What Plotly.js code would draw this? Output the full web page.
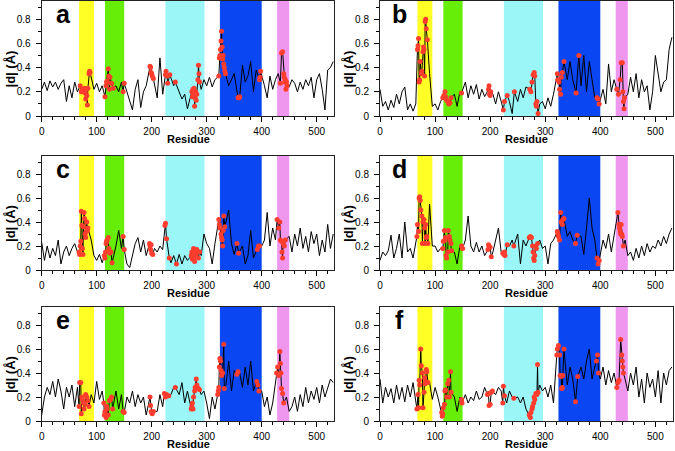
<!DOCTYPE html>
<html><head><meta charset="utf-8">
<script src="https://cdn.plot.ly/plotly-3.0.1.min.js"></script>
<style>html,body{margin:0;padding:0;background:#fff}#chart{width:675px;height:451px}</style>
</head><body><div id="chart"></div>
<script>
// Residue grid for the black traces
const residues = [0,5,10,15,20,25,30,35,40,45,50,55,60,65,70,75,80,85,90,95,
100,105,110,115,120,125,130,135,140,145,150,155,160,165,170,175,180,185,190,195,
200,205,210,215,220,225,230,235,240,245,250,255,260,265,270,275,280,285,290,295,
300,305,310,315,320,325,330,335,340,345,350,355,360,365,370,375,380,385,390,395,
400,405,410,415,420,425,430,435,440,445,450,455,460,465,470,475,480,485,490,495,
500,505,510,515,520,525,530];

const panelLabels = ['a','b','c','d','e','f'];
const tickLabelsX = [0,100,200,300,400,500];
const bandStart = [68,115,225,324,428];
const bandEnd   = [95,150,296,400,450];

const dA = [0.22,0.28,0.21,0.29,0.24,0.28,0.22,0.27,0.30,0.12,
0.25,0.15,0.28,0.20,0.25,0.22,0.15,0.35,0.28,0.22,
0.27,0.20,0.25,0.28,0.30,0.25,0.20,0.25,0.20,0.28,
0.27,0.20,0.12,0.05,0.22,0.30,0.07,0.20,0.25,0.30,
0.36,0.28,0.15,0.48,0.18,0.35,0.30,0.33,0.25,0.28,
0.20,0.14,0.18,0.06,0.15,0.12,0.20,0.30,0.22,0.30,
0.25,0.32,0.24,0.30,0.35,0.55,0.50,0.38,0.25,0.30,
0.35,0.18,0.15,0.42,0.28,0.33,0.45,0.20,0.38,0.32,
0.35,0.25,0.15,0.33,0.22,0.30,0.35,0.50,0.52,0.30,
0.24,0.30,0.27,0.20,0.28,0.22,0.30,0.25,0.32,0.15,
0.30,0.35,0.22,0.05,0.38,0.40,0.45];
const dB = [0.22,0.08,0.12,0.05,0.13,0.07,0.18,0.10,0.20,0.24,
0.05,0.10,0.04,0.10,0.60,0.40,0.55,0.78,0.35,0.08,
0.10,0.05,0.12,0.15,0.20,0.12,0.15,0.18,0.08,0.20,
0.19,0.28,0.15,0.25,0.18,0.26,0.14,0.22,0.16,0.20,
0.22,0.18,0.10,0.20,0.12,0.08,0.17,0.12,0.02,0.20,
0.12,0.22,0.15,0.24,0.12,0.30,0.20,0.20,0.10,0.12,
0.06,0.15,0.08,0.18,0.30,0.25,0.35,0.06,0.30,0.45,
0.30,0.30,0.50,0.25,0.50,0.20,0.45,0.30,0.15,0.12,
0.12,0.22,0.10,0.43,0.20,0.30,0.38,0.25,0.44,0.15,
0.18,0.32,0.20,0.35,0.15,0.30,0.20,0.25,0.05,0.20,
0.50,0.35,0.20,0.28,0.30,0.55,0.65];
const dC = [0.23,0.08,0.20,0.10,0.18,0.12,0.25,0.05,0.15,0.20,
0.12,0.18,0.22,0.15,0.20,0.45,0.30,0.35,0.25,0.12,
0.08,0.13,0.06,0.15,0.22,0.18,0.10,0.20,0.33,0.18,
0.17,0.05,0.02,0.12,0.22,0.27,0.15,0.25,0.12,0.20,
0.15,0.18,0.15,0.20,0.17,0.38,0.15,0.06,0.12,0.06,
0.13,0.05,0.12,0.08,0.13,0.10,0.12,0.13,0.12,0.30,
0.22,0.18,0.05,0.22,0.28,0.35,0.40,0.30,0.50,0.22,
0.13,0.08,0.12,0.20,0.05,0.12,0.33,0.10,0.14,0.18,
0.20,0.25,0.48,0.20,0.35,0.25,0.40,0.30,0.30,0.20,
0.28,0.15,0.30,0.20,0.35,0.18,0.28,0.15,0.32,0.22,
0.30,0.12,0.25,0.15,0.38,0.18,0.30];
const dD = [0.08,0.15,0.12,0.16,0.29,0.10,0.18,0.30,0.10,0.40,
0.15,0.18,0.10,0.20,0.35,0.60,0.40,0.30,0.55,0.20,
0.20,0.15,0.18,0.20,0.25,0.30,0.20,0.15,0.05,0.20,
0.18,0.25,0.45,0.20,0.15,0.23,0.15,0.20,0.12,0.20,
0.18,0.15,0.25,0.35,0.15,0.14,0.12,0.20,0.25,0.20,
0.30,0.05,0.25,0.20,0.27,0.15,0.10,0.20,0.25,0.18,
0.20,0.05,0.22,0.25,0.30,0.32,0.40,0.30,0.28,0.32,
0.25,0.22,0.30,0.28,0.13,0.35,0.60,0.35,0.25,0.10,
0.15,0.25,0.18,0.30,0.15,0.28,0.35,0.45,0.35,0.25,
0.12,0.15,0.08,0.18,0.10,0.20,0.12,0.22,0.15,0.20,
0.18,0.25,0.20,0.28,0.22,0.30,0.35];
const dE = [0.05,0.20,0.28,0.22,0.33,0.20,0.35,0.25,0.10,0.28,
0.20,0.30,0.12,0.28,0.32,0.20,0.15,0.18,0.22,0.15,
0.33,0.18,0.25,0.12,0.08,0.18,0.12,0.25,0.10,0.22,
0.08,0.20,0.15,0.25,0.12,0.22,0.15,0.20,0.05,0.18,
0.10,0.25,0.08,0.22,0.12,0.22,0.20,0.22,0.28,0.30,
0.22,0.32,0.15,0.25,0.10,0.15,0.28,0.30,0.22,0.25,
0.15,0.02,0.20,0.10,0.22,0.45,0.50,0.30,0.50,0.25,
0.42,0.30,0.40,0.28,0.45,0.30,0.50,0.25,0.40,0.30,
0.25,0.12,0.20,0.05,0.15,0.20,0.30,0.55,0.35,0.20,
0.08,0.12,0.20,0.08,0.22,0.12,0.28,0.15,0.25,0.18,
0.28,0.15,0.30,0.20,0.28,0.35,0.32];
const dF = [0.35,0.15,0.28,0.20,0.27,0.15,0.30,0.18,0.28,0.16,
0.30,0.20,0.32,0.15,0.30,0.55,0.25,0.40,0.32,0.18,
0.28,0.20,0.30,0.22,0.20,0.30,0.40,0.20,0.08,0.20,
0.17,0.22,0.15,0.20,0.17,0.25,0.18,0.20,0.28,0.20,
0.15,0.30,0.22,0.28,0.25,0.28,0.15,0.25,0.20,0.25,
0.20,0.15,0.20,0.10,0.12,0.06,0.12,0.20,0.30,0.25,
0.28,0.20,0.30,0.15,0.50,0.55,0.40,0.25,0.30,0.45,
0.35,0.17,0.35,0.45,0.35,0.50,0.60,0.35,0.45,0.50,
0.35,0.45,0.30,0.42,0.32,0.40,0.30,0.60,0.40,0.35,
0.25,0.40,0.30,0.45,0.20,0.35,0.15,0.40,0.28,0.35,
0.20,0.42,0.15,0.40,0.30,0.42,0.45];

// Highlighted (red) residues
const redAx = [70,72,73,75,76,78,79,80,81,82,83,84,86,87,88,
115,117,118,119,121,122,123,124,126,127,130,148,150,
197,198,199,200,201,203,
225,226,228,229,233,243,
273,274,275,276,277,278,279,280,281,282,284,285,286,287,
322,323,324,325,326,327,328,329,330,331,332,333,334,
357,358,359,360,
396,397,398,
434,436,438,440,441,442,443,444,445,446];
const redAy = [0.25,0.20,0.21,0.22,0.20,0.23,0.19,0.14,0.22,0.17,0.09,0.23,0.35,0.37,0.36,
0.16,0.25,0.28,0.29,0.39,0.33,0.22,0.32,0.27,0.27,0.23,0.20,0.27,
0.41,0.40,0.36,0.35,0.33,0.31,
0.34,0.37,0.33,0.27,0.34,0.28,
0.20,0.16,0.22,0.18,0.23,0.08,0.15,0.20,0.13,0.18,0.30,0.42,0.35,0.28,
0.33,0.48,0.50,0.55,0.62,0.70,0.57,0.47,0.50,0.43,0.40,0.37,0.35,
0.15,0.15,0.15,0.16,
0.30,0.32,0.37,
0.27,0.52,0.53,0.35,0.32,0.28,0.30,0.22,0.28,0.25];

const redBx = [68,69,70,71,72,73,75,76,78,79,80,81,82,83,84,86,
114,116,118,119,121,123,125,127,129,148,
197,198,199,200,201,
224,226,231,244,
272,274,276,278,280,281,283,284,285,287,
322,323,325,326,328,329,331,334,
356,361,
394,396,398,
430,433,436,438,440,441,442,443,444];
const redBy = [0.55,0.58,0.64,0.28,0.30,0.45,0.35,0.37,0.53,0.57,0.55,0.33,0.78,0.80,0.72,0.63,
0.15,0.17,0.20,0.16,0.13,0.12,0.10,0.11,0.15,0.19,
0.22,0.25,0.18,0.17,0.20,
0.05,0.12,0.17,0.20,
0.22,0.20,0.28,0.34,0.36,0.33,0.10,0.08,0.12,0.02,
0.35,0.30,0.28,0.22,0.18,0.32,0.36,0.45,
0.19,0.50,
0.15,0.14,0.10,
0.22,0.18,0.30,0.44,0.44,0.20,0.12,0.06,0.15];

const redCx = [68,69,70,71,72,73,74,75,76,77,78,79,80,81,82,83,84,
114,115,116,117,118,119,121,122,124,126,128,148,150,
196,197,198,199,200,202,
224,225,227,232,245,
272,273,274,276,277,278,279,280,282,283,285,287,
322,323,324,326,327,328,329,330,331,333,
355,358,
392,394,396,
428,431,433,434,436,437,438,439,441,443];
const redCy = [0.15,0.13,0.20,0.24,0.49,0.37,0.18,0.13,0.36,0.48,0.43,0.30,0.27,0.32,0.40,0.33,0.35,
0.12,0.10,0.15,0.22,0.24,0.25,0.27,0.18,0.14,0.15,0.06,0.28,0.17,
0.22,0.20,0.17,0.21,0.14,0.13,
0.37,0.39,0.26,0.10,0.05,
0.12,0.15,0.09,0.18,0.10,0.07,0.16,0.13,0.17,0.15,0.10,0.15,
0.42,0.38,0.35,0.30,0.27,0.25,0.20,0.33,0.45,0.36,
0.22,0.14,
0.17,0.20,0.20,
0.42,0.35,0.40,0.25,0.24,0.15,0.10,0.22,0.20,0.25];

const redDx = [67,68,70,71,72,73,74,76,77,78,80,81,82,83,84,85,87,
114,115,117,118,119,120,121,123,124,126,127,129,130,148,150,
196,197,198,200,202,
223,225,226,227,231,243,
271,273,275,277,278,279,280,281,283,284,286,
322,323,324,326,328,329,331,332,334,
355,358,
394,396,398,
432,434,435,436,437,438,439,440,442];
const redDy = [0.28,0.38,0.32,0.60,0.61,0.58,0.50,0.45,0.22,0.40,0.42,0.35,0.22,0.38,0.27,0.28,0.22,
0.18,0.24,0.33,0.25,0.27,0.12,0.10,0.15,0.33,0.28,0.25,0.22,0.16,0.20,0.18,
0.17,0.21,0.20,0.19,0.11,
0.14,0.13,0.15,0.12,0.21,0.20,
0.27,0.28,0.27,0.20,0.15,0.10,0.08,0.12,0.20,0.18,0.22,
0.32,0.30,0.28,0.25,0.48,0.40,0.38,0.42,0.43,
0.22,0.29,
0.10,0.05,0.08,
0.48,0.38,0.35,0.32,0.30,0.38,0.30,0.28,0.20];

const redEx = [68,69,71,72,73,74,76,77,79,80,82,84,86,
113,114,115,117,118,119,121,123,125,127,129,148,150,
197,198,199,200,201,203,
223,225,227,231,243,
272,273,274,275,276,278,279,281,282,283,285,287,
320,321,322,323,324,325,326,327,329,331,332,
355,357,
391,393,395,
427,429,431,433,434,435,436,438,440];
const redEy = [0.12,0.32,0.32,0.06,0.20,0.18,0.15,0.10,0.14,0.22,0.20,0.17,0.12,
0.15,0.05,0.08,0.03,0.12,0.10,0.05,0.17,0.18,0.20,0.10,0.08,0.07,
0.20,0.13,0.08,0.07,0.06,0.08,
0.23,0.20,0.22,0.21,0.28,
0.10,0.12,0.15,0.10,0.20,0.25,0.28,0.35,0.30,0.28,0.27,0.26,
0.22,0.25,0.28,0.45,0.52,0.50,0.42,0.38,0.40,0.64,0.27,
0.39,0.41,
0.33,0.30,0.25,
0.40,0.45,0.38,0.58,0.48,0.40,0.27,0.23,0.15];

const redFx = [67,69,70,71,72,74,75,77,78,80,81,82,83,84,85,87,
112,113,114,115,117,118,119,121,123,125,126,128,129,148,149,
195,197,198,200,202,204,
223,224,226,243,
271,273,274,276,277,279,280,281,283,285,286,287,
321,322,324,326,327,329,330,331,332,334,
355,359,
393,395,397,
430,432,434,437,439,440,441,442];
const redFy = [0.10,0.22,0.11,0.34,0.30,0.60,0.46,0.40,0.11,0.24,0.36,0.31,0.33,0.43,0.41,0.32,
0.07,0.04,0.06,0.11,0.14,0.25,0.26,0.20,0.31,0.34,0.20,0.41,0.24,0.18,0.15,
0.22,0.23,0.13,0.14,0.24,0.25,
0.15,0.29,0.21,0.19,
0.05,0.03,0.07,0.10,0.12,0.15,0.20,0.18,0.23,0.22,0.47,0.24,
0.55,0.60,0.63,0.55,0.38,0.37,0.27,0.28,0.38,0.60,
0.16,0.37,
0.50,0.55,0.40,
0.28,0.32,0.34,0.68,0.55,0.50,0.45,0.40];

const panelData = [dA,dB,dC,dD,dE,dF];
const redX = [redAx,redBx,redCx,redDx,redEx,redFx];
const redY = [redAy,redBy,redCy,redDy,redEy,redFy];

// ---- styling / layout ----
const W = 675, H = 451;
const bandColors = ['#ffff26','#66ee08','#9bf7f7','#0a47f2','#ef97ef'];
const colPx = [[41.7,334.3],[380,673]];
const rowPx = [[1,116],[156,270],[307,421]];
const FONT = 'Liberation Sans, Arial, Helvetica, sans-serif';
const px = v => v / W;
const py = v => 1 - v / H;

function buildLine(base, rx, ry) {
  const pts = [];
  residues.forEach((r, i) => {
    if (!rx.some(x => Math.abs(x - r) < 2.5)) pts.push([r, base[i]]);
  });
  rx.forEach((x, i) => pts.push([x, ry[i]]));
  pts.sort((a, b) => a[0] - b[0]);
  return { x: pts.map(p => p[0]), y: pts.map(p => p[1]) };
}

const traces = [];
const layout = {
  width: W, height: H,
  margin: {l: 0, r: 0, t: 0, b: 0},
  paper_bgcolor: '#fff', plot_bgcolor: '#fff',
  showlegend: false,
  font: {family: FONT, color: '#000'},
  shapes: [], annotations: []
};

for (let i = 0; i < 6; i++) {
  const col = i % 2, row = Math.floor(i / 2);
  const n = i + 1;
  const xa = 'x' + (n === 1 ? '' : n), ya = 'y' + (n === 1 ? '' : n);
  const xk = 'xaxis' + (n === 1 ? '' : n), yk = 'yaxis' + (n === 1 ? '' : n);
  const line = buildLine(panelData[i], redX[i], redY[i]);
  traces.push({type: 'scatter', mode: 'lines', x: line.x, y: line.y, xaxis: xa, yaxis: ya,
    line: {color: '#000', width: 1}, hoverinfo: 'skip'});
  traces.push({type: 'scatter', mode: 'markers', x: redX[i], y: redY[i], xaxis: xa, yaxis: ya,
    marker: {color: '#ff3d2e', size: 5, line: {width: 0}}, hoverinfo: 'skip'});

  layout[xk] = {
    domain: [px(colPx[col][0]), px(colPx[col][1])], anchor: ya,
    range: [0, 532], tickmode: 'array', tickvals: tickLabelsX,
    ticks: 'outside', ticklen: 5, tickwidth: 1, tickcolor: '#000',
    minor: {ticks: 'outside', ticklen: 3, dtick: 20, tick0: 0, tickcolor: '#000', tickwidth: 1, showgrid: false},
    showline: true, linecolor: '#222', linewidth: 1, mirror: true,
    showgrid: false, zeroline: false, ticklabelstandoff: 1,
    tickfont: {family: FONT, size: 10, color: '#000'}, fixedrange: true
  };
  layout[yk] = {
    domain: [py(rowPx[row][1]), py(rowPx[row][0])], anchor: xa,
    range: [0, 0.95], tick0: 0, dtick: 0.2,
    ticks: 'outside', ticklen: 5, tickwidth: 1, tickcolor: '#000',
    minor: {ticks: 'outside', ticklen: 3, dtick: 0.1, tick0: 0, tickcolor: '#000', tickwidth: 1, showgrid: false},
    showline: true, linecolor: '#222', linewidth: 1, mirror: true,
    showgrid: false, zeroline: false, ticklabelstandoff: 3,
    tickfont: {family: FONT, size: 10, color: '#000'}, fixedrange: true
  };

  bandStart.forEach((b, k) => {
    layout.shapes.push({type: 'rect', xref: xa, yref: ya + ' domain', x0: b, x1: bandEnd[k], y0: 0, y1: 1,
      fillcolor: bandColors[k], line: {width: 0}, layer: 'below'});
  });

  const cx = (colPx[col][0] + colPx[col][1]) / 2;
  const cy = (rowPx[row][0] + rowPx[row][1]) / 2;
  layout.annotations.push({xref: 'paper', yref: 'paper', x: px(col ? 399 : 63), y: py(rowPx[row][0] + 13),
    text: '<b>' + panelLabels[i] + '</b>', showarrow: false, xanchor: 'center', yanchor: 'middle',
    font: {family: FONT, size: 25, color: '#000'}});
  layout.annotations.push({xref: 'paper', yref: 'paper', x: px(col ? 348 : 10), y: py(cy + 11),
    text: '<b>|d| (Å)</b>', textangle: -90, showarrow: false, xanchor: 'center', yanchor: 'middle',
    font: {family: FONT, size: 13, color: '#000'}});
  layout.annotations.push({xref: 'paper', yref: 'paper', x: px(cx), y: py(rowPx[row][1] + 23),
    text: '<b>Residue</b>', showarrow: false, xanchor: 'center', yanchor: 'middle',
    font: {family: FONT, size: 11, color: '#000'}});
}

Plotly.newPlot('chart', traces, layout, {staticPlot: true, displayModeBar: false});
</script>
</body></html>
